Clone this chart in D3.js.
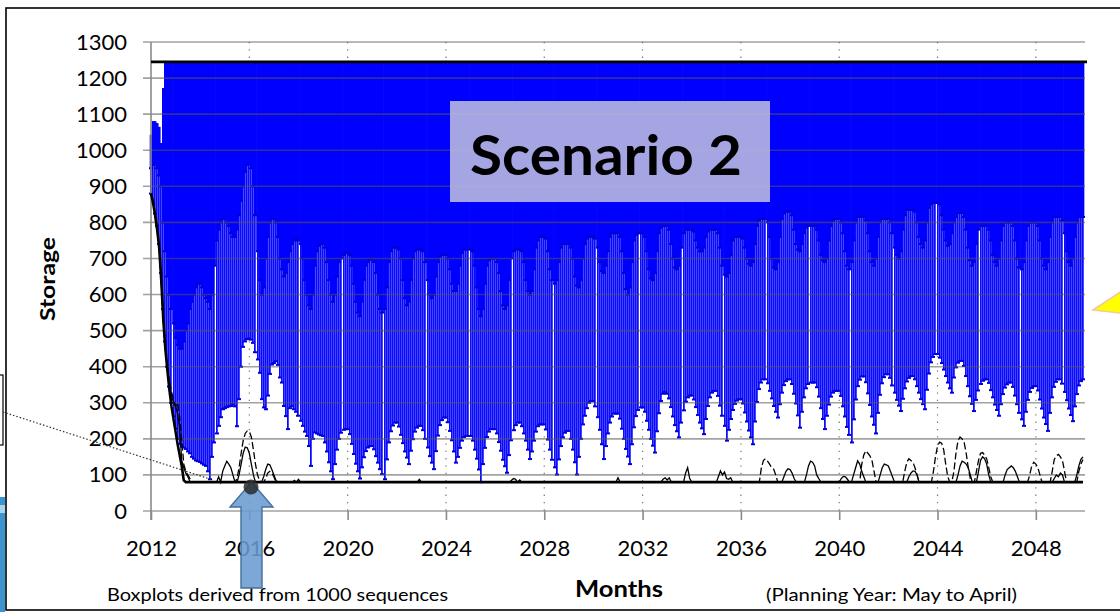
<!DOCTYPE html>
<html>
<head>
<meta charset="utf-8">
<script src="https://cdn.jsdelivr.net/npm/d3@7"></script>
<style>
  body { margin: 0; background: #fff; }
  svg { display: block; }
  text { font-family: Lato, "Open Sans", sans-serif; fill: #000; }
</style>
</head>
<body>
<svg id="chart" width="1120" height="612"></svg>
<script>
// ---- data -------------------------------------------------------------
const startYear = 2012;
const endYear = 2050;
const yTickValues = [0, 100, 200, 300, 400, 500, 600, 700, 800, 900, 1000, 1100, 1200, 1300];
const xTickYears = [2012, 2016, 2020, 2024, 2028, 2032, 2036, 2040, 2044, 2048];
const xGridYears = [2016, 2020, 2024, 2028, 2032, 2036, 2040, 2044, 2048];

const fullSupply = 1245;      // storage ceiling
const minOperating = 80;      // storage floor
// first months before the ceiling is reached (monthly maxima)
const earlyMax = [1043, 1080, 1080, 1075, 1065, 1020, 1172];

// monthly minimum storage across sequences, one row per year (Jan..Dec)
const minByYear = [
  [880, 855, 825, 790, 740, 660, 560, 470, 400, 345, 300, 262], // 2012
  [228, 200, 185, 178, 176, 172, 165, 160, 150, 145, 140, 138], // 2013
  [136, 132, 128, 125, 110, 88, 150, 190, 215, 236, 260, 282],  // 2014
  [285, 288, 290, 291, 295, 290, 235, 310, 400, 455, 470, 476], // 2015
  [478, 475, 466, 440, 420, 383, 310, 287, 282, 320, 380, 406], // 2016
  [410, 415, 405, 370, 356, 291, 263, 227, 285, 290, 282, 275], // 2017
  [264, 250, 236, 220, 208, 180, 125, 200, 218, 215, 212, 210], // 2018
  [208, 190, 165, 135, 110, 88, 130, 170, 200, 217, 225, 227],  // 2019
  [227, 213, 186, 158, 131, 110, 90, 121, 149, 166, 176, 180],  // 2020
  [180, 171, 152, 134, 116, 102, 88, 143, 190, 221, 237, 245],  // 2021
  [245, 234, 211, 188, 165, 148, 130, 167, 199, 220, 231, 236], // 2022
  [236, 224, 200, 176, 152, 134, 116, 166, 209, 238, 252, 259], // 2023
  [259, 246, 222, 196, 165, 134, 150, 175, 195, 205, 208, 208], // 2024
  [208, 195, 170, 145, 115, 80, 130, 175, 205, 220, 227, 227],  // 2025
  [227, 215, 191, 167, 142, 124, 106, 155, 196, 224, 238, 245], // 2026
  [245, 235, 215, 195, 170, 144, 165, 195, 220, 235, 240, 240], // 2027
  [240, 226, 198, 170, 142, 121, 101, 143, 180, 204, 217, 222], // 2028
  [222, 200, 170, 135, 101, 150, 200, 240, 264, 285, 300, 305], // 2029
  [305, 290, 260, 225, 185, 144, 180, 215, 245, 262, 270, 270], // 2030
  [270, 256, 228, 200, 172, 151, 130, 185, 232, 263, 280, 287], // 2031
  [287, 275, 250, 225, 200, 181, 162, 221, 271, 305, 325, 330], // 2032
  [325, 312, 288, 262, 238, 221, 204, 245, 279, 303, 315, 320], // 2033
  [320, 309, 288, 266, 245, 229, 213, 255, 291, 315, 328, 333], // 2034
  [333, 319, 292, 264, 236, 195, 225, 255, 280, 297, 306, 310], // 2035
  [310, 298, 273, 248, 223, 204, 185, 248, 302, 338, 356, 365], // 2036
  [365, 354, 333, 312, 291, 275, 259, 296, 328, 349, 360, 365], // 2037
  [365, 352, 325, 298, 265, 231, 275, 315, 340, 352, 356, 356], // 2038
  [356, 343, 317, 285, 255, 227, 264, 295, 317, 328, 333, 333], // 2039
  [333, 319, 290, 262, 233, 211, 190, 254, 309, 346, 364, 373], // 2040
  [373, 357, 326, 294, 262, 239, 215, 272, 322, 354, 371, 379], // 2041
  [379, 369, 348, 328, 308, 292, 277, 311, 340, 359, 369, 374], // 2042
  [374, 365, 346, 328, 310, 296, 282, 336, 381, 412, 427, 435], // 2043
  [435, 425, 410, 392, 374, 356, 340, 328, 370, 398, 411, 416], // 2044
  [416, 402, 374, 346, 318, 297, 277, 308, 334, 352, 361, 365], // 2045
  [365, 355, 335, 315, 295, 280, 264, 296, 324, 342, 351, 356], // 2046
  [356, 344, 320, 296, 272, 254, 236, 275, 308, 330, 341, 346], // 2047
  [346, 334, 309, 284, 259, 241, 222, 272, 315, 344, 358, 365], // 2048
  [365, 353, 330, 307, 284, 266, 249, 290, 324, 348, 360, 365]  // 2049
];

// monthly lower quartile, one row per year (Jan..Dec)
const q1ByYear = [
  [950, 960, 960, 950, 930, 900, 800, 720, 650, 600, 560, 520], // 2012
  [480, 460, 450, 450, 470, 500, 520, 560, 580, 600, 620, 630], // 2013
  [630, 620, 600, 590, 580, 560, 600, 680, 750, 780, 800, 810], // 2014
  [810, 800, 790, 770, 760, 760, 780, 820, 860, 900, 940, 960], // 2015
  [960, 950, 900, 820, 720, 640, 600, 620, 700, 760, 800, 810], // 2016
  [810, 800, 760, 700, 670, 650, 660, 690, 720, 740, 750, 752], // 2017
  [750, 740, 700, 640, 600, 570, 560, 600, 680, 720, 735, 740], // 2018
  [740, 730, 690, 640, 600, 580, 600, 650, 690, 700, 710, 716], // 2019
  [716, 710, 680, 630, 580, 550, 540, 580, 640, 680, 690, 697], // 2020
  [697, 690, 660, 600, 560, 550, 560, 620, 690, 720, 730, 730], // 2021
  [730, 725, 700, 640, 590, 570, 580, 640, 700, 720, 725, 725], // 2022
  [725, 720, 690, 640, 600, 590, 600, 650, 690, 705, 710, 710], // 2023
  [710, 700, 670, 630, 610, 610, 630, 680, 715, 725, 725, 725], // 2024
  [725, 720, 680, 620, 560, 540, 560, 630, 680, 695, 700, 700], // 2025
  [700, 690, 660, 610, 570, 560, 570, 640, 700, 720, 725, 725], // 2026
  [725, 720, 690, 640, 610, 600, 610, 670, 730, 750, 760, 760], // 2027
  [760, 755, 720, 670, 640, 630, 640, 690, 730, 740, 740, 740], // 2028
  [740, 730, 700, 650, 625, 620, 640, 700, 740, 755, 760, 760], // 2029
  [760, 755, 730, 690, 665, 660, 680, 720, 760, 770, 770, 770], // 2030
  [770, 760, 720, 660, 615, 600, 620, 690, 750, 765, 770, 770], // 2031
  [770, 760, 720, 670, 645, 640, 660, 720, 770, 785, 790, 790], // 2032
  [790, 780, 740, 700, 675, 670, 680, 730, 770, 780, 780, 780], // 2033
  [780, 775, 750, 730, 720, 720, 730, 760, 775, 780, 780, 780], // 2034
  [780, 770, 730, 680, 655, 650, 660, 710, 750, 760, 760, 760], // 2035
  [760, 755, 730, 700, 685, 680, 690, 740, 790, 805, 810, 810], // 2036
  [810, 800, 760, 700, 675, 670, 690, 760, 810, 825, 830, 830], // 2037
  [830, 820, 780, 740, 725, 720, 740, 770, 785, 790, 790, 790], // 2038
  [790, 780, 750, 710, 695, 690, 700, 750, 790, 805, 810, 810], // 2039
  [810, 800, 770, 720, 680, 670, 690, 750, 800, 815, 815, 815], // 2040
  [815, 805, 770, 720, 690, 680, 700, 760, 800, 810, 810, 810], // 2041
  [810, 800, 770, 730, 710, 700, 720, 780, 820, 835, 835, 835], // 2042
  [835, 830, 800, 760, 740, 730, 750, 800, 840, 850, 854, 854], // 2043
  [854, 850, 820, 780, 750, 735, 740, 770, 800, 815, 826, 826], // 2044
  [826, 815, 780, 730, 695, 680, 690, 740, 780, 790, 790, 790], // 2045
  [790, 780, 750, 710, 690, 680, 700, 750, 790, 800, 800, 800], // 2046
  [800, 790, 750, 700, 675, 670, 690, 750, 790, 800, 800, 800], // 2047
  [800, 790, 750, 700, 680, 670, 690, 760, 800, 815, 815, 815], // 2048
  [815, 805, 770, 720, 690, 680, 700, 760, 800, 815, 815, 815]  // 2049
];

// individual storage sequences (black lines): opening draw-down, then
// excursions above the floor as [first month index, monthly values]
const seqMainHead = [880, 855, 820, 780, 730, 640, 530, 450, 390, 335, 290, 255, 220, 185, 155, 125, 85, 80];
const seqThinHead = [880, 855, 820, 780, 730, 640, 530, 450, 400, 350, 320, 300, 290, 270, 230, 140, 120, 105, 95, 82, 80];
const seqThinBumps = [
  [33, [95, 80, 110, 125, 138, 130, 120, 100, 80]],
  [43, [100, 130, 160, 177, 175, 160, 130, 100, 80]],
  [55, [95, 115, 130, 128, 115, 100, 85]],
  [70, [85, 80, 88, 80]],
  [131, [88, 80]],
  [176, [85, 90, 88, 80, 86]],
  [228, [92, 80]],
  [250, [88, 92, 86, 92, 80]],
  [261, [105, 120, 90, 80]],
  [277, [95, 111, 100, 108, 90, 88, 92]],
  [309, [95, 110, 117, 115, 105, 90]],
  [320, [100, 125, 138, 135, 125, 100, 90]],
  [337, [90, 96, 95, 88]],
  [343, [100, 120, 139, 130, 110, 95]],
  [356, [100, 120, 130, 128, 125, 110, 95]],
  [370, [95, 105, 111, 110, 100]],
  [394, [100, 125, 138, 135, 130, 120, 100]],
  [404, [110, 140, 150, 145, 130, 100]],
  [417, [100, 115, 120, 125, 120, 110, 95]],
  [441, [90, 100, 95, 105, 100]],
  [452, [100, 125, 143, 150]]
];
const seqDashHead = [880, 855, 820, 780, 730, 640, 530, 450, 390, 360, 330, 310, 290, 300, 260, 200, 130, 110, 100, 90, 80];
const seqDashBumps = [
  [42, [90, 120, 160, 195, 215, 222, 220, 205, 170, 130, 100, 85]],
  [56, [90, 105, 110, 105, 95]],
  [298, [120, 140, 145, 138, 130, 120, 116, 100]],
  [347, [130, 155, 167, 160, 153, 140, 110]],
  [368, [110, 135, 145, 140, 135, 120, 100]],
  [382, [110, 150, 180, 191, 188, 170, 130, 95]],
  [392, [110, 160, 195, 205, 200, 190, 160, 120, 90]],
  [403, [110, 140, 160, 162, 155, 145, 120, 95]],
  [429, [100, 125, 135, 130, 120, 100]],
  [440, [110, 143, 153, 157, 150, 140, 110]],
  [453, [110, 130, 143]]
];

// ---- assemble monthly records -----------------------------------------
const minFlat = minByYear.flat();
const q1Flat = q1ByYear.flat();
const months = minFlat.map((mn, i) => {
  const hi = i < earlyMax.length ? earlyMax[i] : fullSupply;
  return { t: startYear + i / 12, min: mn, q1: q1Flat[i], q3: hi, max: hi };
});

function buildSequence(head, bumps) {
  const s = months.map(() => minOperating);
  head.forEach((v, i) => { s[i] = v; });
  (bumps || []).forEach(([start, vals]) => vals.forEach((v, k) => { if (start + k < s.length) s[start + k] = v; }));
  return s.map((v, i) => ({ t: months[i].t, v }));
}
const seqMain = buildSequence(seqMainHead, []);
const seqThin = buildSequence(seqThinHead, seqThinBumps);
const seqDash = buildSequence(seqDashHead, seqDashBumps);

// ---- drawing ----------------------------------------------------------
const svg = d3.select("#chart");
const x = d3.scaleLinear().domain([startYear, endYear]).range([151, 1085]);
const y = d3.scaleLinear().domain([0, 1300]).range([511, 42]);

// outer frame
svg.append("rect").attr("x", 6).attr("y", 8).attr("width", 1130).attr("height", 602)
  .attr("fill", "#fff").attr("stroke", "#000").attr("stroke-width", 1.6);

// vertical dotted grid
svg.append("g").selectAll("line").data(xGridYears).join("line")
  .attr("x1", d => x(d)).attr("x2", d => x(d))
  .attr("y1", y(1300)).attr("y2", y(0))
  .attr("stroke", "#777").attr("stroke-width", 1.2).attr("stroke-dasharray", "1.3,6");

// boxplots: whisker (min..max), inner whisker stroke, box (q1..q3), caps
const bars = svg.append("g");
bars.selectAll("rect.whisker").data(months).join("rect").attr("class", "whisker")
  .attr("x", d => Math.round(x(d.t) - 1)).attr("width", 2)
  .attr("y", d => y(d.max)).attr("height", d => y(d.min) - y(d.max))
  .attr("fill", "#4646ff").attr("shape-rendering", "crispEdges");
bars.selectAll("rect.whiskerCore").data(months).join("rect").attr("class", "whiskerCore")
  .attr("x", d => Math.round(x(d.t) - 1)).attr("width", 1)
  .attr("y", d => y(d.max)).attr("height", d => y(d.min) - y(d.max))
  .attr("fill", "#0a0aff").attr("shape-rendering", "crispEdges");
bars.selectAll("rect.box").data(months).join("rect").attr("class", "box")
  .attr("x", d => x(d.t) - 1.3).attr("width", 2.7)
  .attr("y", d => y(d.q3)).attr("height", d => y(d.q1) - y(d.q3))
  .attr("fill", "#0000ff");
bars.selectAll("rect.capLow").data(months).join("rect").attr("class", "capLow")
  .attr("x", d => Math.round(x(d.t) - 2)).attr("width", 4)
  .attr("y", d => y(d.min) - 1).attr("height", 2)
  .attr("fill", "#0000e0");
bars.selectAll("rect.capQ1").data(months).join("rect").attr("class", "capQ1")
  .attr("x", d => Math.round(x(d.t) - 2)).attr("width", 4)
  .attr("y", d => y(d.q1) - 1).attr("height", 2)
  .attr("fill", "#0000d0");

// horizontal grid (drawn over the boxes)
svg.append("g").selectAll("line").data(yTickValues).join("line")
  .attr("x1", 143).attr("x2", 1085)
  .attr("y1", d => y(d)).attr("y2", d => y(d))
  .attr("stroke", "#555").attr("stroke-opacity", 0.55).attr("stroke-width", 1.6);

// axes
const yAxis = d3.axisLeft(y).tickValues(yTickValues).tickFormat(d3.format("d")).tickSize(0).tickPadding(16);
const gy = svg.append("g").attr("transform", "translate(143,0)").call(yAxis);
gy.select(".domain").remove();
gy.selectAll("text").attr("font-size", 22).attr("font-family", "Lato, sans-serif");

svg.append("line").attr("x1", 151).attr("x2", 151).attr("y1", y(1300)).attr("y2", 520)
  .attr("stroke", "#8a8a8a").attr("stroke-width", 1.6);

const xAxis = d3.axisBottom(x).tickValues(xTickYears).tickFormat(d3.format("d")).tickSize(9).tickPadding(20);
const gx = svg.append("g").attr("transform", `translate(0,${y(0)})`).call(xAxis);
gx.select(".domain").remove();
gx.selectAll("line").attr("stroke", "#8a8a8a").attr("stroke-width", 1.6);
gx.selectAll("text").attr("font-size", 22).attr("font-family", "Lato, sans-serif");

// ceiling line
svg.append("line").attr("x1", x(startYear)).attr("x2", 1087)
  .attr("y1", y(fullSupply)).attr("y2", y(fullSupply))
  .attr("stroke", "#000").attr("stroke-width", 2.6);

// sequences
const line = d3.line().x(d => x(d.t)).y(d => y(d.v));
svg.append("path").datum(seqDash).attr("d", line).attr("fill", "none")
  .attr("stroke", "#000").attr("stroke-width", 1.3).attr("stroke-dasharray", "7,3");
svg.append("path").datum(seqThin).attr("d", line).attr("fill", "none")
  .attr("stroke", "#000").attr("stroke-width", 1.3);
svg.append("path").datum(seqMain).attr("d", line).attr("fill", "none")
  .attr("stroke", "#000").attr("stroke-width", 2.6);

// axis titles and notes
svg.append("text").attr("transform", "translate(55,279) rotate(-90)")
  .attr("text-anchor", "middle").attr("font-weight", 700).attr("font-size", 20)
  .attr("textLength", 84).attr("lengthAdjust", "spacingAndGlyphs").text("Storage");
svg.append("text").attr("x", 619).attr("y", 597).attr("text-anchor", "middle")
  .attr("font-weight", 700).attr("font-size", 23)
  .attr("textLength", 88).attr("lengthAdjust", "spacingAndGlyphs").text("Months");
svg.append("text").attr("x", 107).attr("y", 601).attr("font-size", 17)
  .attr("textLength", 341).attr("lengthAdjust", "spacingAndGlyphs").text("Boxplots derived from 1000 sequences");
svg.append("text").attr("x", 766).attr("y", 601).attr("font-size", 17)
  .attr("textLength", 251).attr("lengthAdjust", "spacingAndGlyphs").text("(Planning Year: May to April)");

// scenario label
svg.append("rect").attr("x", 450).attr("y", 101).attr("width", 320).attr("height", 101)
  .attr("fill", "rgb(188,188,224)").attr("fill-opacity", 0.88);
svg.append("text").attr("x", 470).attr("y", 175).attr("font-weight", 700).attr("font-size", 56)
  .attr("textLength", 272).attr("lengthAdjust", "spacingAndGlyphs").text("Scenario 2");

// callouts
svg.append("rect").attr("x", -10).attr("y", 375).attr("width", 13).attr("height", 70)
  .attr("fill", "#fff").attr("stroke", "#000").attr("stroke-width", 1.2);
svg.append("line").attr("x1", 3).attr("y1", 412).attr("x2", 213).attr("y2", 480)
  .attr("stroke", "#333").attr("stroke-width", 1.2).attr("stroke-dasharray", "1.5,2");
svg.append("rect").attr("x", 0).attr("y", 497).attr("width", 5).attr("height", 115).attr("fill", "#3d95cf");
svg.append("rect").attr("x", 0).attr("y", 505).attr("width", 5).attr("height", 8).attr("fill", "#a8d4ee");

svg.append("path")
  .attr("d", "M241,588 L262,588 L262,507 L273,507 L251.5,482 L230,507 L241,507 Z")
  .attr("fill", "#6b9bd2").attr("fill-opacity", 0.88).attr("stroke", "#41719c").attr("stroke-width", 1.4);
svg.append("circle").attr("cx", 251).attr("cy", 487).attr("r", 7.5)
  .attr("fill", "#2b2b2b").attr("fill-opacity", 0.85);

svg.append("path").attr("d", "M1093,310 L1128,287 L1128,314 Z")
  .attr("fill", "#ffff00").attr("stroke", "#f5c8a0").attr("stroke-width", 1.5);
</script>
</body>
</html>
